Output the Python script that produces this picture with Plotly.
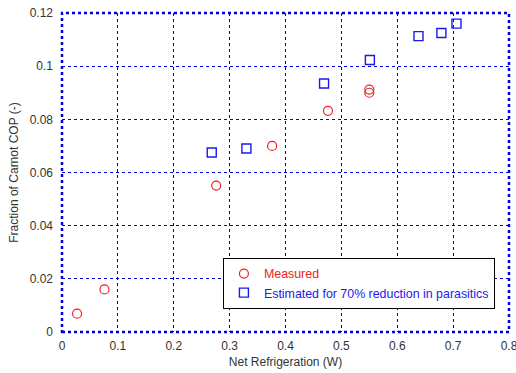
import plotly.graph_objects as go

measured_x = [0.027, 0.076, 0.276, 0.376, 0.476, 0.550, 0.550]
measured_y = [0.0069, 0.0160, 0.0551, 0.0700, 0.0832, 0.0912, 0.0900]
est_x = [0.268, 0.330, 0.469, 0.551, 0.638, 0.679, 0.706]
est_y = [0.0675, 0.0690, 0.0935, 0.1023, 0.1113, 0.1125, 0.1160]

x_ticks = [0, 0.1, 0.2, 0.3, 0.4, 0.5, 0.6, 0.7, 0.8]
x_labels = ["0", "0.1", "0.2", "0.3", "0.4", "0.5", "0.6", "0.7", "0.8"]
y_ticks = [0, 0.02, 0.04, 0.06, 0.08, 0.1, 0.12]
y_labels = ["0", "0.02", "0.04", "0.06", "0.08", "0.1", "0.12"]

FONT = "Liberation Sans, Arial"

fig = go.Figure()
fig.add_trace(go.Scatter(
    x=measured_x, y=measured_y, mode="markers",
    name="<span style='color:#ee2222'>Measured</span>",
    marker=dict(symbol="circle-open", size=9, color="#ee2222", line=dict(width=1.2)),
))
fig.add_trace(go.Scatter(
    x=est_x, y=est_y, mode="markers",
    name="<span style='color:#1a1aee'>Estimated for 70% reduction in parasitics</span>",
    marker=dict(symbol="square-open", size=9, color="#1a1aee", line=dict(width=1.4)),
))

grid = dict(showgrid=True, gridcolor="#0000dd", griddash="dot", gridwidth=1,
            zeroline=False, showline=False, ticks="", automargin=False,
            ticklabeloverflow="allow",
            tickfont=dict(family=FONT, size=12, color="#333333"))

fig.update_xaxes(range=[0, 0.8], tickvals=x_ticks, ticktext=x_labels,
                 ticklabelstandoff=5,
                 title=dict(text="Net Refrigeration (W)", standoff=5,
                            font=dict(family=FONT, size=12, color="#333333")),
                 **grid)
fig.update_yaxes(range=[0, 0.12], tickvals=y_ticks, ticktext=y_labels,
                 ticklabelstandoff=8,
                 title=dict(text="Fraction of Carnot COP (-)", standoff=8,
                            font=dict(family=FONT, size=12, color="#333333")),
                 **grid)

fig.add_shape(type="rect", xref="paper", yref="paper", x0=0, y0=0, x1=1, y1=1,
              line=dict(color="#0000dd", width=2.5, dash="dot"))

fig.update_layout(
    width=516, height=373,
    margin=dict(l=62, r=7, t=13, b=41),
    plot_bgcolor="white", paper_bgcolor="white",
    font=dict(family=FONT, size=12, color="#333333"),
    legend=dict(x=0.36, y=0.232, xanchor="left", yanchor="top",
                bordercolor="black", borderwidth=1, bgcolor="white",
                font=dict(size=12.4), itemwidth=30, tracegroupgap=0),
    showlegend=True,
)

fig.write_html("out.html",
               config={"displayModeBar": False},
               post_script="document.body.style.margin='0';document.body.style.overflow='hidden';")
